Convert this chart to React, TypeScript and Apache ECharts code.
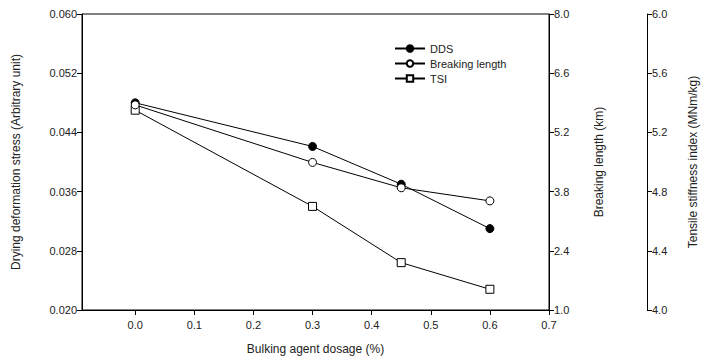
import React, { useEffect, useRef } from "react";
import * as echarts from "echarts";

const dosage = [0.0, 0.3, 0.45, 0.6];
const ddsValues = [0.048, 0.0421, 0.037, 0.031];
const breakingLength = [5.85, 4.49, 3.89, 3.58];
const tsiValues = [5.35, 4.7, 4.32, 4.14];
const xTicks = [0.0, 0.1, 0.2, 0.3, 0.4, 0.5, 0.6, 0.7];

const xTitle = "Bulking agent dosage (%)";
const yLeftTitle = "Drying deformation stress (Arbitrary unit)";
const yRightTitle = "Breaking length (km)";
const yRight2Title = "Tensile stiffness index (MNm/kg)";

const FONT = "Liberation Sans, Arial, sans-serif";
const TXT = "#222";

export default function App() {
  const ref = useRef<HTMLDivElement>(null);
  useEffect(() => {
    document.body.style.margin = "0";
    const chart = echarts.init(ref.current!, null, { renderer: "svg" });
    const axisCommon = {
      axisLine: { show: true, onZero: false, lineStyle: { color: "#000", width: 1 } },
      axisTick: { show: true, length: 5, inside: false, lineStyle: { color: "#000" } },
      splitLine: { show: false },
      axisLabel: { color: TXT, fontSize: 11, fontFamily: FONT, margin: 5 },
      nameTextStyle: { color: TXT, fontSize: 12, fontFamily: FONT },
      nameLocation: "middle" as const,
    };
    const pair = (xs: number[], ys: number[]) => xs.map((x, i) => [x, ys[i]]);
    chart.setOption({
      animation: false,
      backgroundColor: "#fff",
      textStyle: { fontFamily: FONT },
      grid: {
        left: 82,
        right: 151,
        top: 14,
        bottom: 50,
        show: true,
        borderColor: "#000",
        borderWidth: 1,
        backgroundColor: "transparent",
      },
      legend: {
        orient: "vertical",
        left: 394,
        top: 42,
        padding: 0,
        itemWidth: 30,
        itemHeight: 8,
        itemGap: 2,
        textStyle: { color: TXT, fontSize: 11, fontFamily: FONT, lineHeight: 13, padding: 0 },
        data: ["DDS", "Breaking length", "TSI"],
      },
      xAxis: {
        ...axisCommon,
        type: "value",
        min: -0.09,
        max: 0.7,
        name: xTitle,
        nameGap: 33,
        axisTick: { ...axisCommon.axisTick, customValues: xTicks },
        axisLabel: {
          ...axisCommon.axisLabel,
          margin: 9,
          customValues: xTicks,
          formatter: (v: number) => v.toFixed(1),
        },
      },
      yAxis: [
        {
          ...axisCommon,
          type: "value",
          position: "left",
          min: 0.02,
          max: 0.06,
          interval: 0.008,
          name: yLeftTitle,
          nameGap: 60,
          nameRotate: 90,
          axisLabel: { ...axisCommon.axisLabel, formatter: (v: number) => v.toFixed(3) },
        },
        {
          ...axisCommon,
          type: "value",
          position: "right",
          min: 1,
          max: 8,
          interval: 1.4,
          name: yRightTitle,
          nameGap: 44,
          nameRotate: 90,
          axisLabel: { ...axisCommon.axisLabel, formatter: (v: number) => v.toFixed(1) },
        },
        {
          ...axisCommon,
          type: "value",
          position: "right",
          offset: 98,
          min: 4,
          max: 6,
          interval: 0.4,
          name: yRight2Title,
          nameGap: 40,
          nameRotate: 90,
          axisLabel: { ...axisCommon.axisLabel, formatter: (v: number) => v.toFixed(1) },
        },
      ],
      series: [
        {
          name: "DDS",
          type: "line",
          yAxisIndex: 0,
          data: pair(dosage, ddsValues),
          symbol: "circle",
          symbolSize: 8,
          lineStyle: { color: "#000", width: 1 },
          itemStyle: { color: "#000", borderColor: "#000", borderWidth: 1 },
          z: 3,
        },
        {
          name: "Breaking length",
          type: "line",
          yAxisIndex: 1,
          data: pair(dosage, breakingLength),
          symbol: "circle",
          symbolSize: 8,
          lineStyle: { color: "#000", width: 1 },
          itemStyle: { color: "#fff", borderColor: "#000", borderWidth: 1 },
          z: 4,
        },
        {
          name: "TSI",
          type: "line",
          yAxisIndex: 2,
          data: pair(dosage, tsiValues),
          symbol: "rect",
          symbolSize: 8,
          lineStyle: { color: "#000", width: 1 },
          itemStyle: { color: "#fff", borderColor: "#000", borderWidth: 1 },
          z: 2,
        },
      ],
    });
    return () => chart.dispose();
  }, []);
  return (
    <div
      ref={ref}
      style={{ position: "fixed", left: 0, top: 0, width: 707, height: 360 }}
    />
  );
}
